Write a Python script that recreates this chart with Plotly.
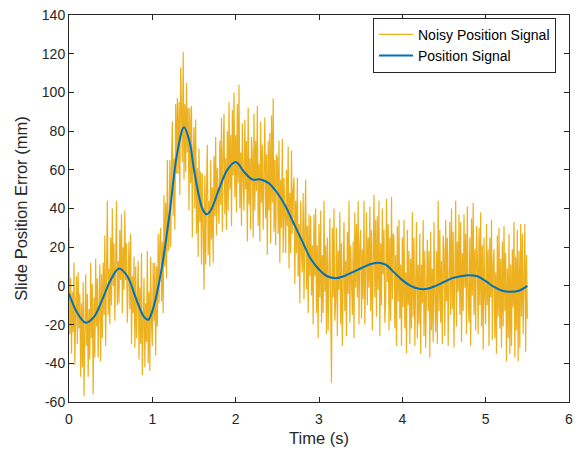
import plotly.graph_objects as go

# ---- data ----
smooth_t = [0.0, 0.1, 0.2, 0.3, 0.4, 0.5, 0.6, 0.7, 0.8, 0.9, 0.95, 1.0, 1.1, 1.2, 1.3,
            1.38, 1.45, 1.5, 1.6, 1.65, 1.7, 1.8, 1.9, 2.0, 2.1, 2.2, 2.3, 2.4, 2.5,
            2.6, 2.7, 2.8, 2.9, 3.0, 3.1, 3.2, 3.3, 3.4, 3.5, 3.6, 3.7, 3.8, 3.9, 4.0,
            4.1, 4.2, 4.3, 4.4, 4.5, 4.6, 4.7, 4.8, 4.9, 5.0, 5.1, 5.2, 5.3, 5.4, 5.5]
smooth_v = [-4, -14, -19, -16, -7, 3, 9, 5, -6, -16, -17.5, -13, 6, 35, 69,
            82, 74, 60, 40, 37, 39, 50, 60, 64, 59, 55, 55, 53, 48,
            41, 32, 23, 14, 8.5, 5, 4, 5, 7, 9, 11, 12, 11, 7, 3,
            0, -1.5, -1.5, 0, 2, 4, 5, 5.5, 5, 2.5, -0.5, -2.5, -3, -2.5, 0]

noisy_dt = 0.01
noisy_v = [
    30, -25, 4, -35, -3, -24, 12, -41, -14, 5,
    -30, 7, -22, -4, -47, -9, -42, 2, -57, -14,
    6, -31, -4, -47, -12, -38, 12, -27, 1, -56,
    -6, -37, 14, -21, 4, -37, -6, 11, -39, 6,
    -27, 12, -15, 26, -31, 10, 44, -15, 9, -20,
    25, -10, 40, 0, 22, -18, 17, 44, -10, 13,
    -9, 29, 3, 37, -14, 20, -2, 39, 3, 22,
    -19, 14, 23, -12, 27, -30, 5, -14, 15, -32,
    10, -27, -4, 13, -38, -1, -30, 17, -46, -9,
    4, -42, -9, -29, 18, -40, -3, -44, 15, -20,
    -31, 12, -18, 12, -36, 10, -21, 27, -9, 23,
    30, -8, 23, -14, 47, 10, 43, 4, 65, 18,
    21, 65, 20, 64, 85, 36, 66, 29, 94, 58,
    97, 58, 95, 47, 113, 91, 64, 121, 55, 94,
    59, 105, 69, 92, 39, 92, 53, 93, 25, 70,
    82, 40, 86, 27, 61, 15, 71, 33, 59, 11,
    58, 29, -2, 57, 11, 51, 73, 16, 44, 10,
    65, 24, 51, 12, 67, 36, 77, 26, 61, 43,
    32, 75, 42, 87, 28, 67, 89, 37, 66, 29,
    80, 39, 95, 50, 78, 31, 91, 57, 100, 46,
    78, 38, 94, 53, 104, 40, 69, 31, 84, 55,
    39, 86, 50, 75, 23, 92, 42, 66, 29, 77,
    67, 25, 89, 39, 75, 49, 93, 31, 63, 23,
    85, 43, 73, 29, 61, 87, 35, 68, 16, 75,
    39, 79, 22, 88, 43, 97, 28, 65, 21, 68,
    66, 27, 75, 12, 55, 30, 76, 17, 56, 31,
    17, 60, 31, 72, 9, 48, 17, 70, 27, 49,
    56, 1, 44, 17, 56, 5, 32, -9, 44, 16,
    7, 48, -7, 30, 55, -2, 31, -14, 37, 5,
    36, -5, 21, -20, 37, 5, 40, -14, 21, -27,
    32, -6, 39, -19, 16, -14, 44, -3, 21, -25,
    25, -23, 17, 35, -11, -50, 30, -6, 40, -18,
    -8, 30, -26, 18, -2, 38, -20, 22, -31, 15,
    33, -13, 13, -26, 28, -4, 44, -19, 21, 3,
    -15, 23, -27, 38, -1, 32, -6, 44, -20, 21,
    29, -17, 19, -7, 44, -20, 16, 38, -10, 25,
    -1, 41, -13, 29, -23, 19, 47, -6, 34, -16,
    36, -2, 44, -26, 22, -10, 40, 6, 29, -19,
    -9, 45, 2, 32, -23, 25, -18, 46, -7, 27,
    25, -22, 16, -31, 31, -8, 34, -17, 11, -31,
    25, -11, 34, -22, 7, -35, 29, -10, 18, -30,
    14, -22, 38, -16, 25, -31, 7, 33, -27, 11,
    -20, 27, -35, 11, -9, 34, -26, 18, -32, 15,
    24, -13, 18, -37, 28, -23, 9, -29, 33, -6,
    -24, 18, -30, 44, -13, 29, -19, 13, -30, 26,
    18, -26, 34, -8, 25, -31, 11, 33, -15, 40,
    -12, 28, -32, 18, 44, -21, 23, -3, 37, -15,
    33, -29, 17, -13, 37, -1, 27, -25, 41, -7,
    -19, 25, -31, 35, -5, 43, -15, 19, -23, 31,
    15, -25, 30, -10, 38, -21, 21, -33, 25, -5,
    -20, 32, -10, 19, -31, 25, -6, 34, -28, 12,
    19, -27, 7, -35, 26, -16, 30, -22, 14, -32,
    23, -21, 31, -13, 17, -39, 9, -27, 27, -35,
    11, -31, 19, -11, 33, -37, 15, -23, 29, -39,
    18, -32, 32, -16, 27, -25, 7, 32, -34, 16,
    -17,
]
noisy_t = [round(i * noisy_dt, 4) for i in range(len(noisy_v))]

x_ticks = [0, 1, 2, 3, 4, 5, 6]
x_tick_labels = ["0", "1", "2", "3", "4", "5", "6"]
y_ticks = [-60, -40, -20, 0, 20, 40, 60, 80, 100, 120, 140]
y_tick_labels = ["-60", "-40", "-20", "0", "20", "40", "60", "80", "100", "120", "140"]

# ---- figure ----
AX = "#262626"
FONT = "Liberation Sans, Arial, Helvetica, sans-serif"

fig = go.Figure()
fig.add_trace(go.Scatter(x=noisy_t, y=noisy_v, mode="lines", name="Noisy Position Signal",
                         line=dict(color="#EDB120", width=1.2)))
fig.add_trace(go.Scatter(x=smooth_t, y=smooth_v, mode="lines", name="Position Signal",
                         line=dict(color="#0072BD", width=2, shape="spline", smoothing=1)))

axis_common = dict(showline=True, linecolor=AX, linewidth=1, mirror="ticks",
                   ticks="inside", ticklen=5, tickcolor=AX, showgrid=False,
                   zeroline=False, ticklabeloverflow="allow",
                   tickfont=dict(size=14, color=AX, family=FONT))

fig.update_xaxes(range=[0, 6], tickvals=x_ticks, ticktext=x_tick_labels,
                 ticklabelstandoff=4,
                 title=dict(text="Time (s)", font=dict(size=16.5, color=AX, family=FONT), standoff=6),
                 **axis_common)
fig.update_yaxes(range=[-60, 140], tickvals=y_ticks, ticktext=y_tick_labels,
                 title=dict(text="Slide Position Error (mm)", font=dict(size=16.5, color=AX, family=FONT), standoff=10),
                 **axis_common)

fig.update_layout(
    width=583, height=454,
    margin=dict(l=69, r=14, t=7, b=52),
    paper_bgcolor="white", plot_bgcolor="white",
    font=dict(family=FONT, color=AX),
    showlegend=True,
    legend=dict(x=0.974, y=0.993, xanchor="right", yanchor="top",
                bgcolor="white", bordercolor=AX, borderwidth=1,
                font=dict(size=14, color="black", family=FONT),
                tracegroupgap=0, itemwidth=34),
)

fig.write_html("out.html")
